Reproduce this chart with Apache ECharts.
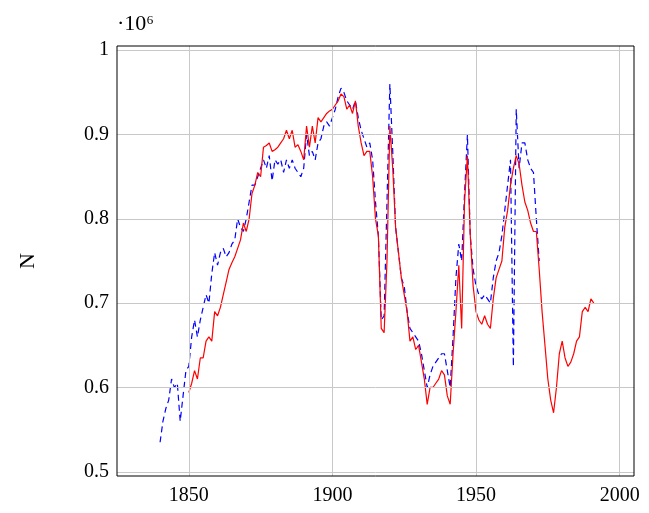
<!DOCTYPE html>
<html><head><meta charset="utf-8">
<script src="https://cdn.jsdelivr.net/npm/echarts@6/dist/echarts.min.js"></script>
<style>body{margin:0}#c{width:649px;height:513px}</style></head>
<body><div id="c"></div>
<script>
const redYears = [];
for (let y = 1850; y <= 1991; y++) redYears.push(y);
const redValues = [0.594,0.605,0.62,0.61,0.635,0.635,0.655,0.66,0.655,0.69,0.685,0.695,0.71,0.725,0.74,0.748,0.755,0.765,0.775,0.795,0.785,0.80,0.83,0.84,0.855,0.85,0.885,0.887,0.89,0.88,0.882,0.885,0.89,0.895,0.905,0.895,0.905,0.885,0.888,0.88,0.87,0.91,0.885,0.91,0.89,0.92,0.915,0.92,0.925,0.928,0.93,0.935,0.94,0.948,0.945,0.93,0.935,0.925,0.94,0.91,0.89,0.875,0.88,0.88,0.85,0.8,0.78,0.67,0.665,0.75,0.91,0.86,0.79,0.76,0.73,0.71,0.69,0.655,0.66,0.645,0.65,0.63,0.61,0.58,0.6,0.6,0.605,0.61,0.62,0.615,0.59,0.58,0.64,0.69,0.745,0.67,0.82,0.875,0.78,0.72,0.69,0.68,0.675,0.685,0.675,0.67,0.705,0.73,0.74,0.75,0.79,0.81,0.84,0.86,0.875,0.865,0.84,0.82,0.81,0.795,0.785,0.785,0.74,0.69,0.65,0.61,0.585,0.57,0.6,0.64,0.655,0.635,0.625,0.63,0.64,0.655,0.66,0.69,0.695,0.69,0.705,0.70];
const blueYears = [];
for (let y = 1840; y <= 1972; y++) blueYears.push(y);
const blueValues = [0.535,0.56,0.575,0.585,0.61,0.6,0.605,0.56,0.59,0.62,0.625,0.66,0.68,0.66,0.68,0.695,0.71,0.7,0.735,0.76,0.745,0.76,0.765,0.755,0.76,0.77,0.775,0.8,0.79,0.785,0.8,0.82,0.84,0.84,0.85,0.86,0.87,0.86,0.875,0.845,0.87,0.865,0.87,0.855,0.87,0.86,0.87,0.86,0.855,0.85,0.86,0.9,0.875,0.88,0.87,0.89,0.895,0.91,0.915,0.91,0.92,0.93,0.945,0.955,0.95,0.94,0.935,0.93,0.94,0.92,0.905,0.895,0.885,0.89,0.87,0.82,0.78,0.68,0.685,0.82,0.96,0.88,0.79,0.76,0.73,0.72,0.69,0.67,0.665,0.66,0.655,0.64,0.62,0.6,0.615,0.625,0.63,0.635,0.64,0.64,0.62,0.6,0.66,0.73,0.77,0.75,0.83,0.9,0.78,0.74,0.72,0.71,0.705,0.71,0.705,0.7,0.73,0.75,0.76,0.78,0.81,0.84,0.87,0.625,0.93,0.86,0.89,0.89,0.87,0.86,0.855,0.8,0.75];
const xTicks = [1850,1900,1950,2000];
const yTicks = [0.5,0.6,0.7,0.8,0.9,1];
const F = 'Liberation Serif';
const chart = echarts.init(document.getElementById('c'));
chart.setOption({
  animation:false,
  grid:{left:117,right:15,top:46,bottom:37},
  title:{text:'·10⁶',left:112,top:8,textStyle:{fontFamily:F,fontSize:22,fontWeight:'normal',color:'#000'}},
  xAxis:{type:'value',min:1825,max:2005,
    axisLine:{show:false},
    axisTick:{show:true,inside:true,length:4,customValues:xTicks,lineStyle:{color:'#000'}},
    axisLabel:{fontFamily:F,fontSize:20,color:'#000',customValues:xTicks,formatter:v=>String(v),margin:10},
    splitLine:{show:false}},
  yAxis:{type:'value',min:0.495,max:1.005,
    name:'N',nameLocation:'middle',nameGap:78,nameRotate:90,nameTextStyle:{fontFamily:F,fontSize:22,color:'#000'},
    axisLine:{show:false},
    axisTick:{show:true,inside:true,length:4,customValues:yTicks,lineStyle:{color:'#000'}},
    axisLabel:{fontFamily:F,fontSize:20,color:'#000',customValues:yTicks,formatter:v=>v===1?'1':v.toFixed(1)},
    splitLine:{show:false}},
  graphic:[{type:'rect',shape:{x:117,y:46,width:517,height:430},style:{fill:'none',stroke:'#000',lineWidth:1},z:100}],
  series:[
    {type:'line',data:redYears.map((y,i)=>[y,redValues[i]]),symbol:'none',lineStyle:{color:'#ff0000',width:1.2},z:3},
    {type:'line',data:blueYears.map((y,i)=>[y,blueValues[i]]),symbol:'none',lineStyle:{color:'#0000ff',width:1.2,type:[6,4]},z:2},
    {type:'line',data:[],symbol:'none',silent:true,z:1,
      markLine:{silent:true,symbol:'none',label:{show:false},lineStyle:{color:'#c8c8c8',type:'solid',width:1},
        data:yTicks.map(v=>({yAxis:v})).concat(xTicks.map(v=>({xAxis:v})))}}
  ]
});
</script></body></html>
